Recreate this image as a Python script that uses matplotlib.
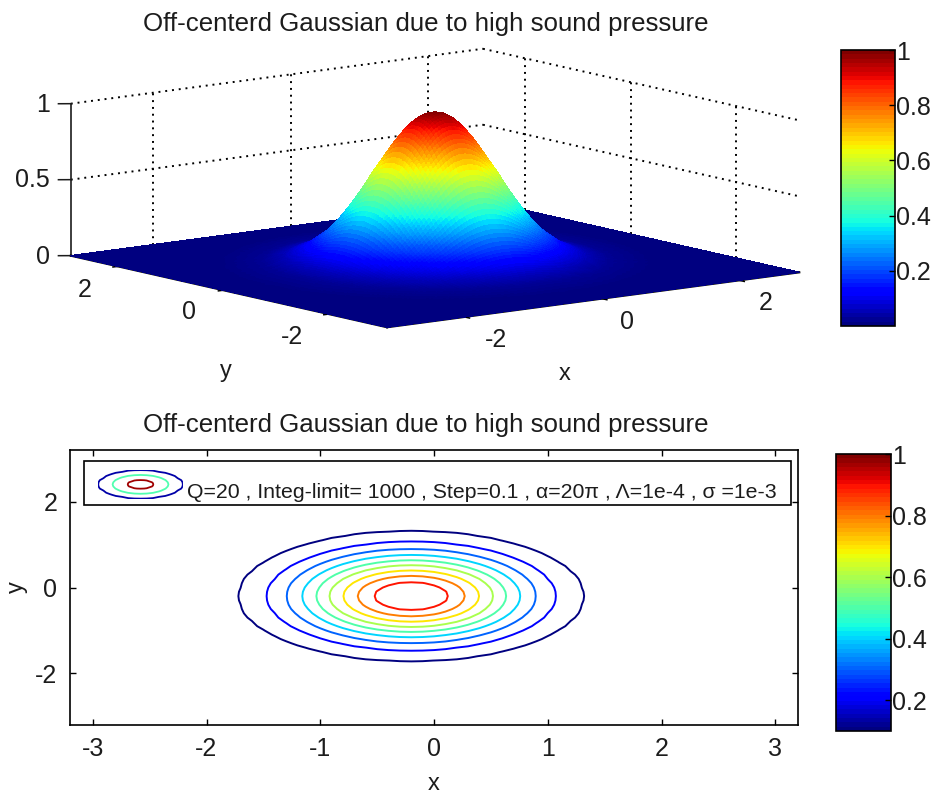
import numpy as np
import matplotlib
matplotlib.use('Agg')
import matplotlib.pyplot as plt
from matplotlib.cm import ScalarMappable
from matplotlib.colors import Normalize
from matplotlib.patches import Rectangle

plt.rcParams['font.family'] = ['Liberation Sans', 'DejaVu Sans']
plt.rcParams['axes.unicode_minus'] = False

# values
title = 'Off-centerd Gaussian due to high sound pressure'
legend_text = 'Q=20 , Integ-limit= 1000 , Step=0.1 , \u03b1=20\u03c0 , \u039b=1e-4 , \u03c3 =1e-3'

# height of the bump against distance from its centre
profile_r = [0, 0.12, 0.22, 0.327, 0.474, 0.596, 0.72, 0.832, 0.955, 1.093, 1.263, 1.512, 1.75, 2.0, 2.5, 3.0, 5.0]
profile_z = [1, 0.985, 0.953, 0.9, 0.8, 0.7, 0.6, 0.5, 0.4, 0.3, 0.2, 0.1, 0.047, 0.018, 0.002, 0.0, 0.0]
peak_x = -0.2
peak_y = -0.2

# top plot
top_xlim = [-3.2, 2.8]
top_ylim = [-3.2, 2.8]
top_xticks = [-2, 0, 2]
top_yticks = [-2, 0, 2]
top_zticks = [0, 0.5, 1]
top_zlabels = ['0', '0.5', '1']
top_bar_ticks = [0.2, 0.4, 0.6, 0.8, 1]
top_bar_labels = ['0.2', '0.4', '0.6', '0.8', '1']

# where the labels of the 3d axes sit, in picture pixels
zlabel_px = [(50, 257), (50, 180), (50, 105)]
ylabel_px = [(292, 337), (189, 312), (85, 290)]
xlabel_px = [(496, 340), (627, 322), (766, 303)]

# bottom plot
bot_lim = [-3.2, 3.2]
bot_xticks = [-3, -2, -1, 0, 1, 2, 3]
bot_yticks = [-2, 0, 2]
levels = [0.1, 0.2, 0.3, 0.4, 0.5, 0.6, 0.7, 0.8, 0.9]
bot_bar_ticks = [0.2, 0.4, 0.6, 0.8, 1]
bot_bar_labels = ['0.2', '0.4', '0.6', '0.8', '1']

# little contour sample in the legend
swatch_r = [0, 0.33, 0.68, 1.0, 1.2]
swatch_z = [1, 0.9, 0.5, 0.1, 0]
swatch_levels = [0.1, 0.5, 0.9]
swatch_colors = ['#0000a8', '#50ffb0', '#a00000']

W = 936.0
H = 796.0
FS = 18
jet = plt.get_cmap('jet', 64)
smooth_jet = plt.get_cmap('jet')
ink = '#1c1c1c'


def box(left, top, right, bottom):
    # pixel box, measured from the top left of the picture
    return [left / W, 1 - bottom / H, (right - left) / W, (bottom - top) / H]


def bump(x, y):
    r = np.hypot(x - peak_x, y - peak_y)
    return np.interp(r, profile_r, profile_z)


def label_at(px, text, size=FS, ha='center'):
    fig.text(px[0] / W, 1 - px[1] / H, text, fontsize=size, color=ink, ha=ha, va='center')


fig = plt.figure(figsize=(W / 100, H / 100), dpi=100)

# ---- bottom contour plot
ax2 = fig.add_axes(box(70, 450, 798, 725))
gx = np.arange(-3.2, 3.21, 0.1)
X2, Y2 = np.meshgrid(gx, gx)
ax2.contour(X2, Y2, bump(X2, Y2), levels=levels, cmap=jet, vmin=0.1, vmax=1, linewidths=1.4)
ax2.set_xlim(bot_lim)
ax2.set_ylim(bot_lim)
ax2.set_xticks(bot_xticks)
ax2.set_xticklabels([str(t) for t in bot_xticks])
ax2.set_yticks(bot_yticks)
ax2.set_yticklabels([str(t) for t in bot_yticks])
ax2.tick_params(direction='in', top=True, right=True, length=4.5, width=1, labelsize=FS,
                labelcolor=ink, pad=9)
for s in ax2.spines.values():
    s.set_linewidth(1.2)
ax2.set_xlabel('x', fontsize=FS - 1, color=ink, labelpad=8)
ax2.set_ylabel('y', fontsize=FS - 1, color=ink, labelpad=5)

# legend box
ax2.add_patch(Rectangle((-3.075, 1.91), 6.21, 1.04, facecolor='white', edgecolor='black',
                        linewidth=1.2, zorder=5))
ax2.text(-2.17, 2.22, legend_text, fontsize=15.3, color=ink, va='center', ha='left', zorder=6)
sw = ax2.inset_axes([-2.95, 2.07, 0.74, 0.66], transform=ax2.transData, zorder=6)
sx = np.arange(-1.2, 1.21, 0.15)
SX, SY = np.meshgrid(sx, sx)
sw.contour(SX, SY, np.interp(np.hypot(SX, SY), swatch_r, swatch_z), levels=swatch_levels,
           colors=swatch_colors, linewidths=1.3)
sw.set_xlim(-1.02, 1.02)
sw.set_ylim(-1.02, 1.02)
sw.set_axis_off()

# ---- top surface, axes square is larger than the plot so nothing gets clipped
side = 800.0
left = 435 - 0.5135 * side
top = 188 - (1 - 0.5135) * side
ax1 = fig.add_axes(box(left, top, left + side, top + side), projection='3d',
                   proj_type='ortho', computed_zorder=False)
ax1.patch.set_alpha(0)
ax1.view_init(elev=10, azim=-127.5)
ax1.set_box_aspect((1, 1, 0.297), zoom=0.911)

sx1 = np.arange(top_xlim[0], top_xlim[1] + 0.01, 0.04)
sy1 = np.arange(top_ylim[0], top_ylim[1] + 0.01, 0.04)
X1, Y1 = np.meshgrid(sx1, sy1)
Z1 = bump(X1, Y1)
ax1.plot_surface(X1, Y1, Z1, facecolors=smooth_jet(Z1), rstride=1, cstride=1,
                 linewidth=0.3, antialiased=False, shade=False, zorder=3)

x0, x1 = top_xlim
y0, y1 = top_ylim
dots = (0, (1, 2.5))
for z in top_zticks[1:]:
    ax1.plot([x0, x1], [y1, y1], [z, z], color='k', lw=1.4, ls=dots, zorder=1)
    ax1.plot([x1, x1], [y1, y0], [z, z], color='k', lw=1.4, ls=dots, zorder=1)
for t in top_xticks:
    ax1.plot([t, t], [y1, y1], [0, 1], color='k', lw=1.4, ls=dots, zorder=1)
for t in top_yticks:
    ax1.plot([x1, x1], [t, t], [0, 1], color='k', lw=1.4, ls=dots, zorder=1)

# axis lines and ticks
ax1.plot([x0, x0], [y1, y1], [0, 1], color=ink, lw=1.2, zorder=2)
ax1.plot([x0, x0], [y0, y1], [0, 0], color='k', lw=1.6, zorder=2)
ax1.plot([x0, x1], [y0, y0], [0, 0], color='k', lw=1.6, zorder=2)
for z in top_zticks:
    ax1.plot([x0, x0 - 0.18], [y1, y1], [z, z + 0.0105], color=ink, lw=1.1, zorder=2)
for t in top_yticks:
    ax1.plot([x0, x0 + 0.14], [t, t], [-0.012, -0.012], color='k', lw=1.1, zorder=2)
for t in top_xticks:
    ax1.plot([t, t], [y0, y0 + 0.14], [-0.012, -0.012], color='k', lw=1.1, zorder=2)

ax1.set_xlim(top_xlim)
ax1.set_ylim(top_ylim)
ax1.set_zlim(0, 1)
ax1.set_axis_off()

# labels of the 3d axes
for px, lab in zip(zlabel_px, top_zlabels):
    label_at(px, lab, ha='right')
for px, t in zip(ylabel_px, top_yticks):
    label_at(px, str(t))
for px, t in zip(xlabel_px, top_xticks):
    label_at(px, str(t))
label_at((226, 371), 'y', FS - 1)
label_at((565, 374), 'x', FS - 1)

# ---- titles
label_at((426, 24), title, 18.6)
label_at((426, 425), title, 18.6)

# ---- colour bars
cax1 = fig.add_axes(box(841, 50, 895, 326))
cb1 = fig.colorbar(ScalarMappable(Normalize(0, 1), jet), cax=cax1, ticks=top_bar_ticks)
cb1.ax.set_yticklabels(top_bar_labels)
cax2 = fig.add_axes(box(836, 454, 891, 731))
cb2 = fig.colorbar(ScalarMappable(Normalize(0.1, 1), jet), cax=cax2, ticks=bot_bar_ticks)
cb2.ax.set_yticklabels(bot_bar_labels)
for cb in [cb1, cb2]:
    cb.outline.set_linewidth(1.2)
    cb.ax.tick_params(direction='in', length=4, width=1, labelsize=FS, labelcolor=ink, pad=1)

fig.savefig('out.png', dpi=100)
